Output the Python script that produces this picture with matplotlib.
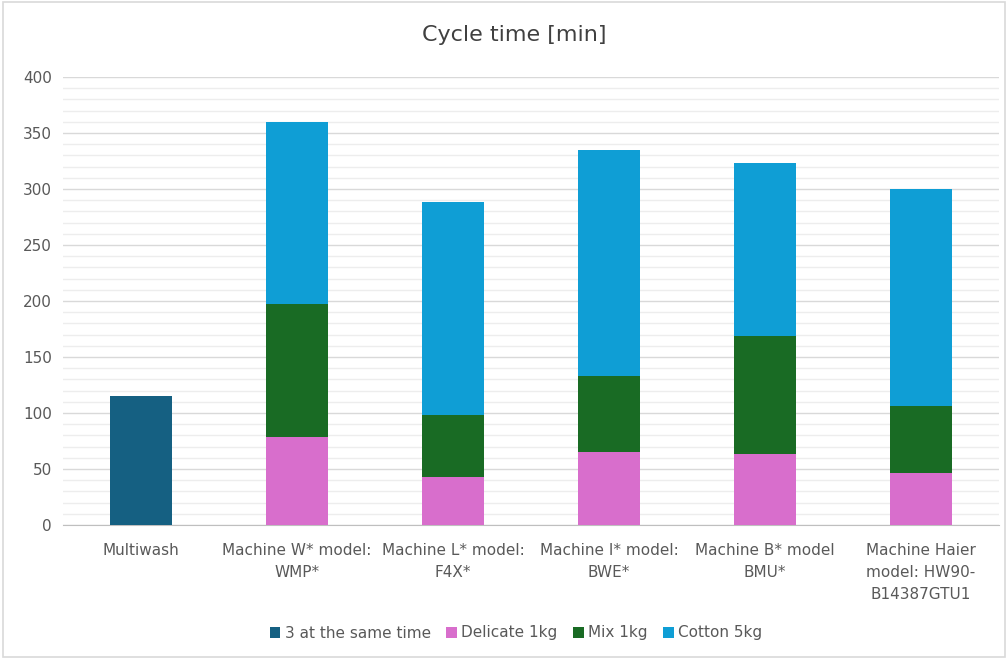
import matplotlib
matplotlib.use("Agg")
import matplotlib.pyplot as plt
from matplotlib.patches import Rectangle
import numpy as np

plt.rcParams['font.family'] = ['Liberation Sans Narrow', 'DejaVu Sans']

categories = ["Multiwash", "Machine W* model:\nWMP*", "Machine L* model:\nF4X*",
              "Machine I* model:\nBWE*", "Machine B* model\nBMU*",
              "Machine Haier\nmodel: HW90-\nB14387GTU1"]
same_time = [115, 0, 0, 0, 0, 0]
delicate = [0, 79, 43, 65, 63, 46]
mix = [0, 118, 55, 68, 106, 60]
cotton = [0, 163, 190, 202, 154, 194]

series_names = ["3 at the same time", "Delicate 1kg", "Mix 1kg", "Cotton 5kg"]
colors = ["#156082", "#D86ECC", "#196B24", "#0F9ED5"]

fig = plt.figure(figsize=(10.08, 6.59), dpi=100)
fig.patches.append(Rectangle((0.003, 0.003), 0.994, 0.994, transform=fig.transFigure,
                             fill=False, edgecolor="#D9D9D9", linewidth=1.2))
ax = fig.add_axes([63 / 1008, 1 - 525 / 659, 936 / 1008, 448 / 659])

x = np.arange(len(categories))
w = 0.4
bottom = np.zeros(len(categories))
for vals, name, c in zip([same_time, delicate, mix, cotton], series_names, colors):
    v = np.array(vals, dtype=float)
    ax.bar(x, v, w, bottom=bottom, color=c, label=name, zorder=3)
    bottom += v

ax.set_xlim(-0.5, len(categories) - 0.5)
ax.set_ylim(0, 400)
ax.set_yticks(np.arange(0, 401, 50))
ax.set_yticks(np.arange(0, 401, 10), minor=True)
ax.grid(axis="y", which="major", color="#D9D9D9", linewidth=1.0, zorder=0)
ax.grid(axis="y", which="minor", color="#EDEDED", linewidth=1.0, zorder=0)
ax.tick_params(axis="y", which="both", length=0, labelsize=11, labelcolor="#595959", pad=8)
ax.tick_params(axis="x", length=0, labelsize=11, labelcolor="#595959", pad=13)
ax.set_xticks(x)
ax.set_xticklabels(categories, linespacing=1.6)
for s in ["top", "right", "left"]:
    ax.spines[s].set_visible(False)
ax.spines["bottom"].set_color("#BFBFBF")

fig.text(514 / 1008, 1 - 35 / 659, "Cycle time [min]", ha="center", va="center",
         fontsize=16, color="#404040")

handles, labels = ax.get_legend_handles_labels()
fig.legend(handles, labels, loc="center", bbox_to_anchor=(516 / 1008, 1 - 633 / 659), ncol=4,
           frameon=False, fontsize=11, labelcolor="#595959", handlelength=0.7,
           handleheight=0.7, handletextpad=0.3, columnspacing=1.0)

fig.savefig("out.png", dpi=100)
